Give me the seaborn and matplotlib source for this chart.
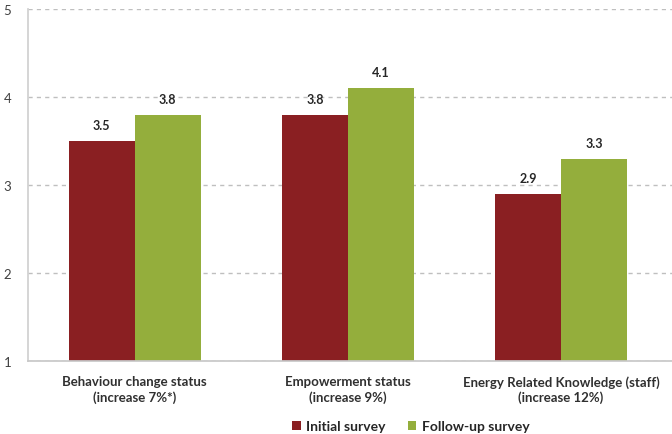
import matplotlib
matplotlib.use("Agg")
import matplotlib.pyplot as plt
import seaborn as sns
import pandas as pd
from matplotlib.patches import Patch

categories = ["Behaviour change status\n(increase 7%*)",
              "Empowerment status\n(increase 9%)",
              "Energy Related Knowledge (staff)\n(increase 12%)"]
series = ["Initial survey", "Follow-up survey"]
initial = [3.5, 3.8, 2.9]
follow_up = [3.8, 4.1, 3.3]
yticks = [1, 2, 3, 4, 5]
colors = ["#8A1F22", "#94AE3C"]

df = pd.DataFrame({
    "category": categories * 2,
    "survey": [series[0]] * 3 + [series[1]] * 3,
    "score": initial + follow_up,
})

sns.set_theme(style="white")
plt.rcParams["font.family"] = ["Lato", "DejaVu Sans"]

fig = plt.figure(figsize=(6.72, 4.35), dpi=100)
ax = fig.add_axes([28 / 672, 1 - 362 / 435, 1 - 28 / 672, 352 / 435])

sns.barplot(data=df, x="category", y="score", hue="survey",
            palette=colors, width=0.62, gap=0, saturation=1,
            edgecolor="none", legend=False, ax=ax, bottom=0)

ax.set_ylim(1, 5)
ax.set_xlim(-0.5, 2.52)
ax.set_yticks(yticks)
ax.set_yticklabels([str(t) for t in yticks], fontsize=9.5, color="#404040")
ax.yaxis.grid(True, linestyle=(0, (3, 3)), color="#BFBFBF", linewidth=1)
ax.set_axisbelow(True)
ax.set_xlabel("")
ax.set_ylabel("")

for side in ["top", "right"]:
    ax.spines[side].set_visible(False)
ax.spines["left"].set_color("#D0D0D0")
ax.spines["bottom"].set_color("#C8C8C8")
ax.spines["bottom"].set_zorder(5)

ax.tick_params(axis="y", length=0, pad=12)
ax.set_xticks(range(3))
ax.set_xticklabels(categories, fontsize=9.5, fontweight="bold", color="#303030",
                   linespacing=1.3)
ax.tick_params(axis="x", length=0, pad=10)
# separator ticks between categories
ax.set_xticks([0.5, 1.5], minor=True)
ax.tick_params(axis="x", which="minor", length=5, color="#C8C8C8", width=1)

for container in ax.containers:
    ax.bar_label(container, fmt="%.1f", padding=7, fontsize=9,
                 fontweight="bold", color="#262626")

handles = [Patch(facecolor=c, edgecolor="none") for c in colors]
fig.legend(handles, series, loc="center", bbox_to_anchor=(411 / 672, 1 - 427 / 435),
           ncol=2, frameon=False, handlelength=0.6, handleheight=0.6,
           columnspacing=1.6, handletextpad=0.4,
           prop={"weight": "bold", "size": 10})

fig.savefig("out.png", dpi=100)
